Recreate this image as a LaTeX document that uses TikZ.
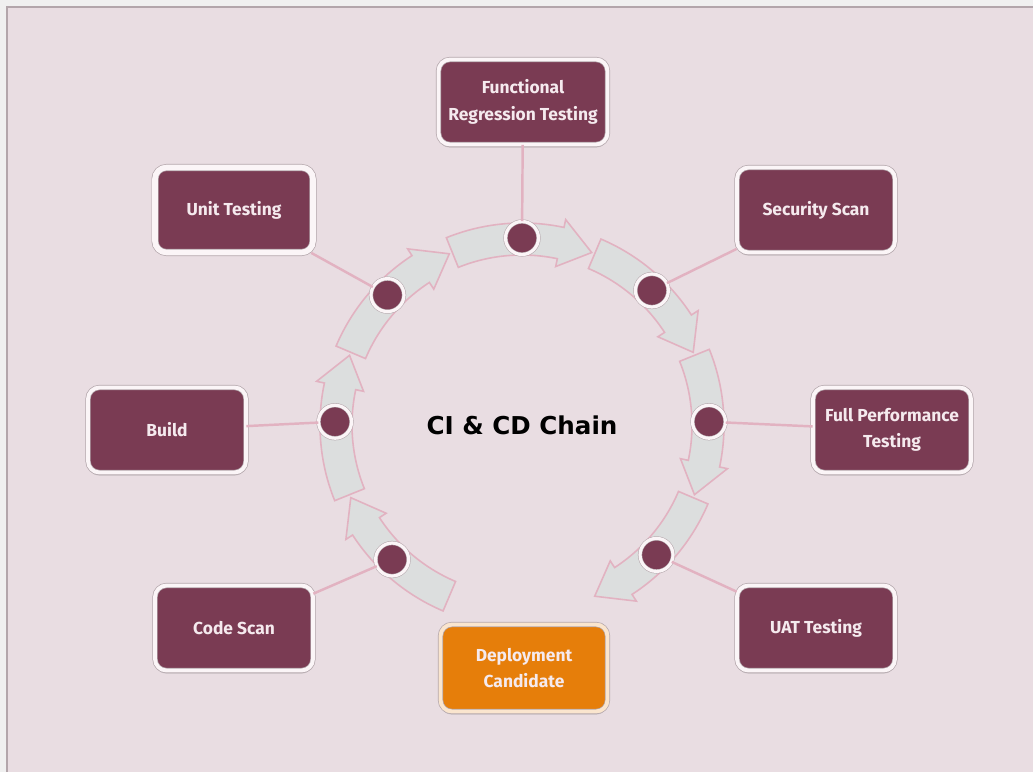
\documentclass[tikz,border=0pt]{standalone}
\usepackage{fontspec}
\setmainfont{Fira Sans}
\newfontfamily\titlefont{DejaVu Sans}
\usepackage{tikz}
\usetikzlibrary{shadows}
\definecolor{cd_back}{HTML}{E9DDE2}
\definecolor{cd_frame}{HTML}{B3A6AB}
\definecolor{cd_outer}{HTML}{F0F0F0}
\definecolor{cd_wine}{HTML}{7A3B53}
\definecolor{cd_orange}{HTML}{E67E0A}
\definecolor{cd_band}{HTML}{DCDEDE}
\definecolor{cd_pink}{HTML}{E2B2C1}
\definecolor{cd_text}{HTML}{F5EAEE}
\definecolor{cd_rim}{HTML}{FBF5F7}

\begin{document}
\begin{tikzpicture}[x=0.02cm, y=0.02cm,
    box/.style={rectangle, rounded corners=6.5pt, fill=cd_wine, draw=cd_frame,
        line width=0.4pt, double=cd_rim, double distance=2.2pt,
        minimum width=3.16cm, minimum height=1.7cm, align=center,
        text=cd_text, font=\bfseries\fontsize{9.9}{15}\selectfont,
        drop shadow={opacity=0.3, shadow xshift=0pt, shadow yshift=-1.8pt}},
    dot/.style={circle, fill=cd_wine, draw=cd_frame, line width=0.3pt,
        double=cd_rim, double distance=1.8pt, minimum size=0.66cm, inner sep=0pt},
    ringseg/.style={fill=cd_band, draw=cd_pink, line width=0.9pt, line join=miter},
    link/.style={draw=cd_pink, line width=1.4pt}]

    % backdrop
    \useasboundingbox (0,0) rectangle (1033,772);
    \fill[cd_outer] (0,0) rectangle (1033,772);
    \fill[cd_back] (7,0) rectangle (1033,765);
    \draw[cd_frame, line width=1.2pt] (7,0) -- (7,765) -- (1033,765);

    % ring of arrows
    \begin{scope}[shift={(522,347)}]
        \foreach \d in {-135,180,135,90,45,0,-45} {
            \filldraw[ringseg] ({\d+22}:202) arc[start angle=\d+22, end angle=\d-12, radius=202]
                -- ({\d-12}:210) -- ({\d-22}:186) -- ({\d-12}:162) -- ({\d-12}:170)
                arc[start angle=\d-12, end angle=\d+22, radius=170] -- cycle;
        }
        \node[dot] (d1) at (-134:187) {};
        \node[dot] (d2) at (179:187) {};
        \node[dot] (d3) at (136:187) {};
        \node[dot] (d4) at (90:187) {};
        \node[dot] (d5) at (46:187) {};
        \node[dot] (d6) at (1:187) {};
        \node[dot] (d7) at (-44:187) {};
        \node[font=\titlefont\bfseries\fontsize{14}{16}\selectfont] (title) at (0,0) {CI \& CD Chain};
    \end{scope}

    % stages
    \node[box] (code) at (234,144) {Code Scan};
    \node[box] (build) at (167,342) {Build};
    \node[box, double distance=3.2pt] (unit) at (234,562) {Unit Testing};
    \node[box, minimum width=3.38cm] (func) at (523,670) {Functional\\Regression Testing};
    \node[box] (sec) at (816,562) {Security Scan};
    \node[box] (perf) at (892,342) {Full Performance\\Testing};
    \node[box] (uat) at (816,144) {UAT Testing};
    \node[box, fill=cd_orange, double=cd_orange!20!white, minimum width=3.34cm,
        minimum height=1.74cm] (deploy) at (524,104) {Deployment\\Candidate};

    % connectors
    \draw[link] (code) -- (d1);
    \draw[link] (build) -- (d2);
    \draw[link] (unit) -- (d3);
    \draw[link] (func) -- (d4);
    \draw[link] (sec) -- (d5);
    \draw[link] (perf) -- (d6);
    \draw[link] (uat) -- (d7);

\end{tikzpicture}
\end{document}
